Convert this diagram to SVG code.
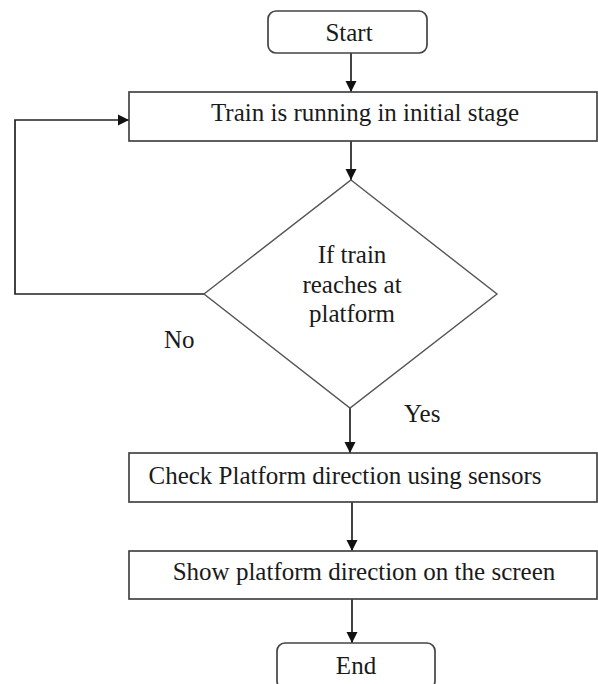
<svg xmlns="http://www.w3.org/2000/svg" width="598" height="684" viewBox="0 0 598 684">
<style>
text{font-family:"Liberation Serif","Times New Roman",serif;font-size:25px;fill:#1a1a1a}
.box{fill:#fff;stroke:#444;stroke-width:1.7}
.dia{fill:#fff;stroke:#555;stroke-width:1.4}
.edge{fill:none;stroke:#222;stroke-width:1.7}
</style>
<defs>
<marker id="arr" markerUnits="userSpaceOnUse" markerWidth="12" markerHeight="12" refX="11" refY="6" orient="auto">
<path d="M0,0.5 L11,6 L0,11.5 Z" fill="#111"/>
</marker>
</defs>
<rect width="598" height="684" fill="#fff"/>
<g id="connectors">
<line class="edge" x1="351" y1="53" x2="351" y2="92" marker-end="url(#arr)"/>
<line class="edge" x1="351" y1="141" x2="351" y2="180" marker-end="url(#arr)"/>
<line class="edge" x1="350" y1="408" x2="350" y2="453" marker-end="url(#arr)"/>
<line class="edge" x1="352" y1="502" x2="352" y2="551" marker-end="url(#arr)"/>
<line class="edge" x1="352" y1="599" x2="352" y2="643" marker-end="url(#arr)"/>
<polyline class="edge" points="204,294 15,294 15,120 129,120" marker-end="url(#arr)"/>
</g>
<g id="start">
<rect class="box" x="268" y="11" width="159" height="42" rx="8"/>
<text x="349" y="41" text-anchor="middle">Start</text>
</g>
<g id="train">
<rect class="box" x="129" y="92" width="468" height="49"/>
<text x="365" y="121" text-anchor="middle">Train is running in initial stage</text>
</g>
<g id="decision">
<polygon class="dia" points="351,180 497,294 350,408 204,294"/>
<text x="352" y="263" text-anchor="middle">If train</text>
<text x="352" y="293" text-anchor="middle">reaches at</text>
<text x="352" y="322" text-anchor="middle">platform</text>
</g>
<g id="label-no"><text x="164" y="348">No</text></g>
<g id="label-yes"><text x="404" y="422">Yes</text></g>
<g id="check">
<rect class="box" x="129" y="453" width="468" height="49"/>
<text x="345" y="484" text-anchor="middle">Check Platform direction using sensors</text>
</g>
<g id="show">
<rect class="box" x="129" y="551" width="468" height="48"/>
<text x="364" y="580" text-anchor="middle">Show platform direction on the screen</text>
</g>
<g id="end">
<rect class="box" x="277" y="643" width="158" height="46" rx="8"/>
<text x="356" y="674" text-anchor="middle">End</text>
</g>
</svg>
